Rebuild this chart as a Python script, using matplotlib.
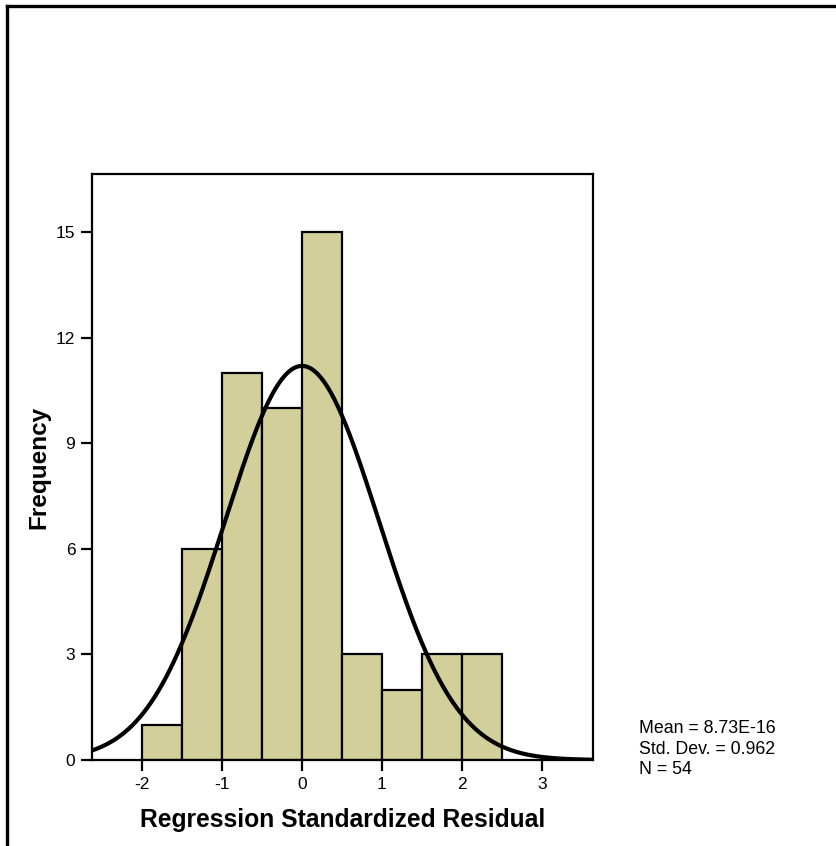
import numpy as np
import matplotlib
matplotlib.use("Agg")
import matplotlib.pyplot as plt
from matplotlib.lines import Line2D

plt.rcParams['font.family'] = ['Liberation Sans', 'DejaVu Sans']

# Histogram of standardized residuals (bin width 0.5)
bin_edges = [-2.0, -1.5, -1.0, -0.5, 0.0, 0.5, 1.0, 1.5, 2.0, 2.5]
counts = [1, 6, 11, 10, 15, 3, 2, 3, 3]
mean_val = 8.73e-16
std_val = 0.962
n_obs = 54
x_ticks = [-2, -1, 0, 1, 2, 3]
y_ticks = [0, 3, 6, 9, 12, 15]

W, H = 837, 846
fig = plt.figure(figsize=(W / 100, H / 100), dpi=100)
ax = fig.add_axes([92 / W, 1 - 760 / H, (593 - 92) / W, (760 - 174) / H])

edges = np.array(bin_edges)
widths = np.diff(edges)
ax.bar(edges[:-1], counts, width=widths, align='edge',
       color='#D3CF9A', edgecolor='black', linewidth=1.6, zorder=2)

# Fitted normal curve scaled to the histogram
xs = np.linspace(-2.625, 3.6375, 400)
bw = widths[0]
ys = n_obs * bw * np.exp(-0.5 * ((xs - mean_val) / std_val) ** 2) / (std_val * np.sqrt(2 * np.pi))
ax.plot(xs, ys, color='black', linewidth=3.0, zorder=3, solid_capstyle='butt')

ax.set_xlim(-2.625, 3.6375)
ax.set_ylim(0, 16.65)
ax.set_xticks(x_ticks)
ax.set_xticklabels([str(t) for t in x_ticks])
ax.set_yticks(y_ticks)
ax.set_yticklabels([str(t) for t in y_ticks])
ax.tick_params(direction='out', length=8, width=1.6, labelsize=12.5, pad=4)
for s in ax.spines.values():
    s.set_linewidth(1.6)

ax.set_xlabel('Regression Standardized Residual', fontsize=17.7, fontweight='bold', labelpad=11.5)
ax.set_ylabel('Frequency', fontsize=17.5, fontweight='bold', labelpad=4)

fig.text(639 / W, 1 - 749 / H,
         'Mean = 8.73E-16\nStd. Dev. = 0.962\nN = 54',
         fontsize=12.8, va='center', ha='left', linespacing=1.27)

# Outer frame (top and left edges)
fig.add_artist(Line2D([7 / W, 836 / W], [1 - 6 / H, 1 - 6 / H], color='black', linewidth=2.4, transform=fig.transFigure))
fig.add_artist(Line2D([7 / W, 7 / W], [1 - 6 / H, 0], color='black', linewidth=2.4, transform=fig.transFigure))

fig.savefig('out.png', dpi=100)
